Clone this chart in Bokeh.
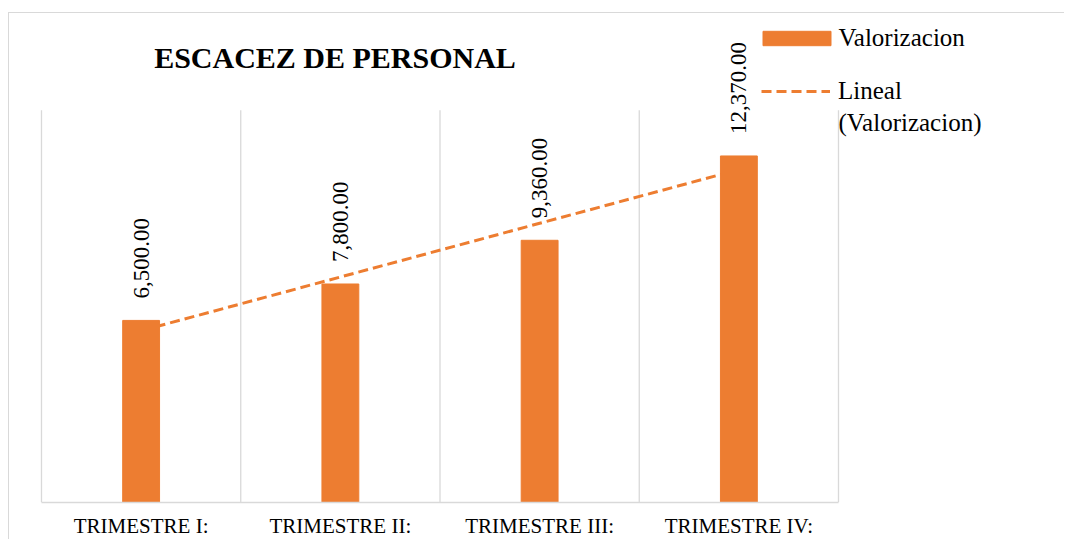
import numpy as np
from bokeh.plotting import figure
from bokeh.models import (Range1d, FixedTicker, LabelSet, Label,
                          Legend, LegendItem, ColumnDataSource)
from bokeh.embed import file_html
from bokeh.resources import INLINE

# ---------------- data ----------------
categories = ["TRIMESTRE I:", "TRIMESTRE II:", "TRIMESTRE III:", "TRIMESTRE IV:"]
valorizacion = [6500, 7800, 9360, 12370]
value_labels = ["6,500.00", "7,800.00", "9,360.00", "12,370.00"]
title_text = "ESCACEZ DE PERSONAL"
series_name = "Valorizacion"
trend_name = "Lineal"
trend_name_2 = "(Valorizacion)"
y_max = 14000

n = len(categories)
xpos = [i + 0.5 for i in range(n)]          # category centres
bounds = list(range(n + 1))                 # category boundaries

# linear trendline (least squares over category index, as the spreadsheet does)
idx = np.arange(1, n + 1)
slope, intercept = np.polyfit(idx, valorizacion, 1)
trend_values = list(slope * idx + intercept)

ORANGE = "#ED7D31"
GRID = "#D9D9D9"
SERIF = "Liberation Serif"

# ---------------- layout (page pixels) ----------------
FIG_L, FIG_T, FIG_W, FIG_H = 9, 13, 1056, 527
PLOT_L, PLOT_R, PLOT_T, PLOT_B = 41, 838, 110, 503
unit_x = (PLOT_R - PLOT_L) / n
x_start = -(PLOT_L - FIG_L) / unit_x
x_end = n + (FIG_L + FIG_W - PLOT_R) / unit_x
y_end = y_max * (PLOT_B - FIG_T) / (PLOT_B - PLOT_T)

src = ColumnDataSource(dict(x=xpos, val=valorizacion, lbl=value_labels,
                            trend=trend_values))

p = figure(x_range=Range1d(x_start, x_end), y_range=Range1d(0, y_end),
           width=FIG_W, height=FIG_H,
           output_backend="svg", toolbar_location=None,
           min_border_left=0, min_border_right=0,
           min_border_top=0, min_border_bottom=FIG_T + FIG_H - PLOT_B)
p.styles = {"position": "relative", "left": f"{FIG_L}px", "top": f"{FIG_T}px",
            "box-shadow": "-1px -1px 0 0 #D9D9D9"}

p.outline_line_color = None
p.background_fill_color = "white"
p.border_fill_color = "white"
p.grid.visible = False

# axes
p.yaxis.visible = False
ax = p.xaxis[0]
ax.ticker = FixedTicker(ticks=xpos)
ax.major_label_overrides = {x: c for x, c in zip(xpos, categories)}
ax.bounds = (0, n)
ax.axis_line_color = GRID
ax.axis_line_width = 1.5
ax.major_tick_line_color = None
ax.minor_tick_line_color = None
ax.major_tick_out = 0
ax.major_tick_in = 0
ax.major_label_standoff = 11
ax.major_label_text_font = SERIF
ax.major_label_text_font_size = "21px"
ax.major_label_text_color = "black"

# vertical gridlines on category boundaries (plot area only)
p.segment(x0=bounds, y0=[0] * len(bounds), x1=bounds, y1=[y_max] * len(bounds),
          line_color=GRID, line_width=1.3)

# trend line (drawn under bars)
trend_r = p.line(x="x", y="trend", source=src, line_color=ORANGE,
                 line_width=3, line_dash="10 5")
# bars
bar_r = p.vbar(x="x", top="val", width=0.185, source=src,
               fill_color=ORANGE, line_color=ORANGE)

# data labels
labels = LabelSet(x="x", y="val", text="lbl", source=src,
                  angle=np.pi / 2, text_align="left", text_baseline="middle",
                  y_offset=22, text_font=SERIF, text_font_size="23px",
                  text_color="black")
p.add_layout(labels)

# screen helpers: Label screen units are relative to the frame's bottom-left
def sx(px):
    return px - FIG_L

def sy(py):
    return PLOT_B - py

title = Label(x=sx(334.5), y=sy(58), x_units="screen", y_units="screen",
              text=title_text, text_align="center", text_baseline="middle",
              text_font=SERIF, text_font_style="bold", text_font_size="30px",
              text_color="black")
p.add_layout(title)

# legends
leg1 = Legend(items=[LegendItem(label=series_name, renderers=[bar_r])],
              location=(sx(753.5), sy(40) - 13), padding=0, margin=0, spacing=0,
              glyph_width=85, glyph_height=18, label_standoff=0,
              label_text_font=SERIF, label_text_font_size="25px",
              label_text_color="black",
              border_line_color=None, background_fill_alpha=0)
leg2 = Legend(items=[LegendItem(label=trend_name, renderers=[trend_r])],
              location=(sx(761), sy(93) - 13), padding=0, margin=0, spacing=0,
              glyph_width=69, glyph_height=18, label_standoff=8,
              label_text_font=SERIF, label_text_font_size="25px",
              label_text_color="black",
              border_line_color=None, background_fill_alpha=0)
p.add_layout(leg1)
p.add_layout(leg2)

leg2_line2 = Label(x=sx(838), y=sy(123), x_units="screen", y_units="screen",
                   text=trend_name_2, text_align="left", text_baseline="middle",
                   text_font=SERIF, text_font_size="25px", text_color="black")
p.add_layout(leg2_line2)

open("out.html", "w").write(file_html(p, INLINE))
